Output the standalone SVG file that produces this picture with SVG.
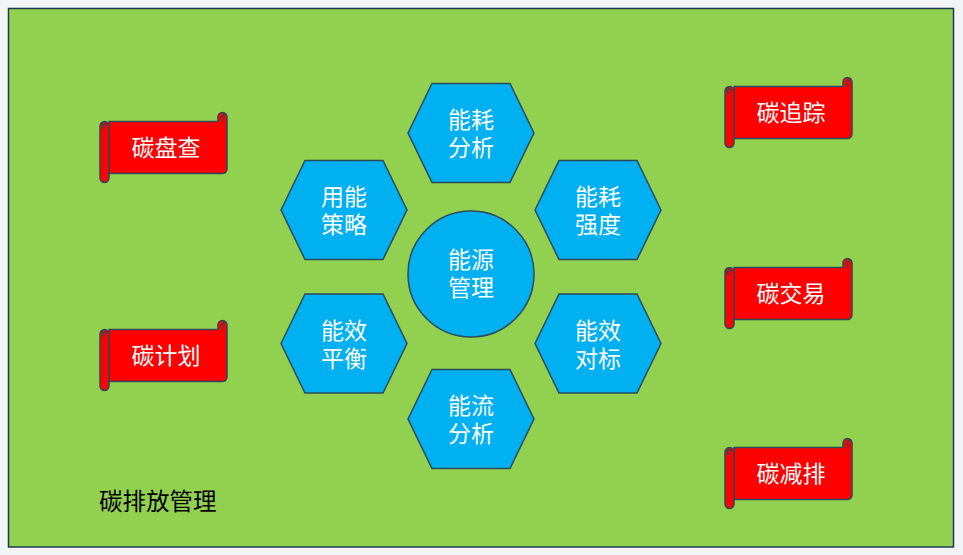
<svg xmlns="http://www.w3.org/2000/svg" xmlns:xlink="http://www.w3.org/1999/xlink" width="963" height="555" viewBox="0 0 963 555">
<style>
.hex{fill:#00b0f0;stroke:#2b4a5a;stroke-width:1.5}
.scr{fill:#ff0000;stroke:#2b4a5a;stroke-width:1.5;stroke-linejoin:round}
.scl{fill:none;stroke:#2b4a5a;stroke-width:1.3}
.t{font-family:"Noto Sans CJK SC","Noto Sans",sans-serif;font-size:23px;fill:#ffffff;text-anchor:middle}
.lbl{font-family:"Noto Sans CJK SC","Noto Sans",sans-serif;font-size:23.5px;fill:#000000}
</style>
<defs>
<polygon id="hexshape" class="hex" points="-63,0 -39,-49.5 39,-49.5 63,0 39,49.5 -39,49.5"/>
<g id="scroll">
<path class="scr" d="M9,9 L118,9 L118,4.5 A4.5,4.5 0 0 1 127,4.5 L127,56.5 A4.5,4.5 0 0 1 122.5,61 L9,61 Z"/>
<path class="scr" d="M0,13.5 A4.5,4.5 0 0 1 9,13.5 L9,65.5 A4.5,4.5 0 0 1 0,65.5 Z"/>
<path class="scl" d="M4.5,15.75 A2.25,2.25 0 0 1 4.5,11.25 A2.25,2.25 0 0 1 6.75,13.5"/>
<path class="scl" d="M122.5,9 L122.5,4.5 A2.25,2.25 0 0 1 124.75,2.25"/>
</g>
</defs>
<rect x="0" y="0" width="963" height="555" fill="#f2f4f7"/>
<rect id="board" x="8.5" y="8.5" width="945" height="538.5" fill="#92d050" stroke="#1f3b52" stroke-width="1.5"/>
<g id="connectors"></g>
<g id="hex-top" transform="translate(471,133)"><use xlink:href="#hexshape"/><text class="t" x="0" y="-5">能耗</text><text class="t" x="0" y="23">分析</text></g>
<g id="hex-ul" transform="translate(344,210)"><use xlink:href="#hexshape"/><text class="t" x="0" y="-5">用能</text><text class="t" x="0" y="23">策略</text></g>
<g id="hex-ur" transform="translate(598,210)"><use xlink:href="#hexshape"/><text class="t" x="0" y="-5">能耗</text><text class="t" x="0" y="23">强度</text></g>
<g id="hex-ll" transform="translate(344,343.5)"><use xlink:href="#hexshape"/><text class="t" x="0" y="-5">能效</text><text class="t" x="0" y="23">平衡</text></g>
<g id="hex-lr" transform="translate(598,343.5)"><use xlink:href="#hexshape"/><text class="t" x="0" y="-5">能效</text><text class="t" x="0" y="23">对标</text></g>
<g id="hex-bottom" transform="translate(471,419)"><use xlink:href="#hexshape"/><text class="t" x="0" y="-5">能流</text><text class="t" x="0" y="23">分析</text></g>
<g id="center" transform="translate(471,274)"><circle cx="0" cy="0" r="63" class="hex"/><text class="t" x="0" y="-6">能源</text><text class="t" x="0" y="22">管理</text></g>
<g id="scroll-pancha" transform="translate(100,112.5)"><use xlink:href="#scroll"/><text class="t" x="66" y="43">碳盘查</text></g>
<g id="scroll-jihua" transform="translate(100,320.5)"><use xlink:href="#scroll"/><text class="t" x="66" y="43">碳计划</text></g>
<g id="scroll-zhuizong" transform="translate(725,77.5)"><use xlink:href="#scroll"/><text class="t" x="66" y="43">碳追踪</text></g>
<g id="scroll-jiaoyi" transform="translate(725,258.5)"><use xlink:href="#scroll"/><text class="t" x="66" y="43">碳交易</text></g>
<g id="scroll-jianpai" transform="translate(725,438.5)"><use xlink:href="#scroll"/><text class="t" x="66" y="43">碳减排</text></g>
<g id="title"><text class="lbl" x="99" y="510">碳排放管理</text></g>
</svg>
